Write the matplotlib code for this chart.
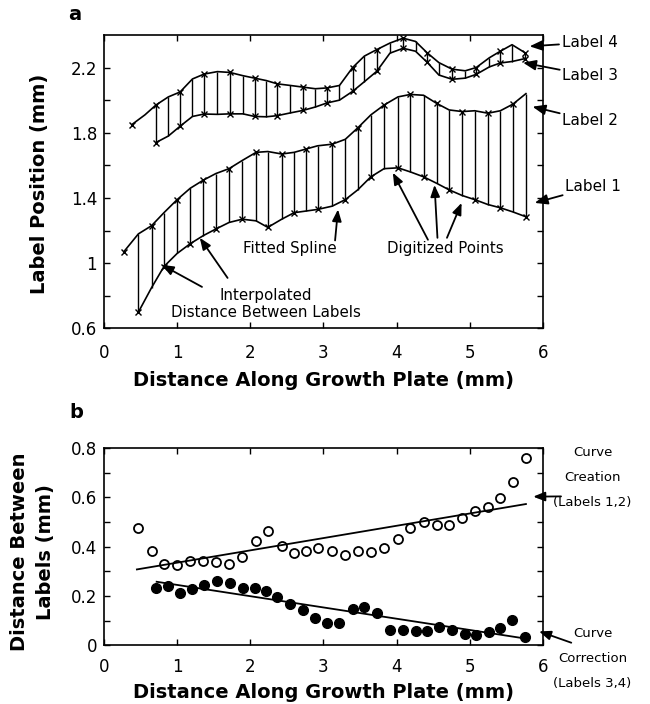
import numpy as np
import matplotlib.pyplot as plt
from matplotlib.ticker import MultipleLocator, FixedLocator

plt.rcParams['font.family'] = ['DejaVu Sans']

# ==========================================
# data
# ==========================================
# x positions of the interpolated distances (labels 1,2 and labels 3,4)
x12 = [0.47, 0.65, 0.82, 1.00, 1.18, 1.36, 1.53, 1.71, 1.89, 2.08, 2.24,
       2.43, 2.60, 2.76, 2.92, 3.12, 3.30, 3.47, 3.65, 3.83, 4.02, 4.19,
       4.37, 4.55, 4.72, 4.90, 5.07, 5.25, 5.42, 5.59, 5.77]
x34 = [0.71, 0.88, 1.04, 1.21, 1.37, 1.55, 1.72, 1.90, 2.06, 2.22, 2.37,
       2.55, 2.72, 2.89, 3.05, 3.22, 3.40, 3.56, 3.73, 3.91, 4.09, 4.26,
       4.42, 4.58, 4.76, 4.94, 5.09, 5.27, 5.42, 5.58, 5.76]

# panel a: label positions (mm)
label1 = [0.70, 0.85, 0.98, 1.06, 1.12, 1.17, 1.21, 1.25, 1.27, 1.26, 1.22,
          1.27, 1.31, 1.32, 1.33, 1.35, 1.39, 1.45, 1.53, 1.58, 1.585, 1.56,
          1.53, 1.49, 1.45, 1.415, 1.39, 1.36, 1.34, 1.315, 1.285]
label2_start = (0.27, 1.07)
label2 = [1.18, 1.23, 1.31, 1.39, 1.46, 1.51, 1.55, 1.58, 1.63, 1.68, 1.685,
          1.67, 1.68, 1.70, 1.72, 1.73, 1.76, 1.83, 1.91, 1.97, 2.02, 2.035,
          2.03, 1.98, 1.94, 1.93, 1.935, 1.92, 1.935, 1.975, 2.04]
label3 = [1.74, 1.78, 1.84, 1.90, 1.915, 1.913, 1.916, 1.916, 1.90, 1.898,
          1.905, 1.922, 1.937, 1.958, 1.983, 2.00, 2.054, 2.113, 2.177, 2.288,
          2.318, 2.30, 2.232, 2.154, 2.128, 2.135, 2.158, 2.204, 2.228, 2.237,
          2.255]
label4_start_x = [0.38, 0.56]
label4_start_y = [1.85, 1.91]
label4 = [1.97, 2.02, 2.05, 2.13, 2.16, 2.175, 2.17, 2.15, 2.135, 2.12, 2.10,
          2.09, 2.08, 2.07, 2.075, 2.09, 2.20, 2.27, 2.31, 2.35, 2.38, 2.36,
          2.29, 2.23, 2.19, 2.18, 2.20, 2.26, 2.30, 2.34, 2.29]

# panel b: distance between labels (mm)
dist12 = [0.477, 0.383, 0.330, 0.326, 0.343, 0.343, 0.337, 0.329, 0.357,
          0.424, 0.465, 0.403, 0.373, 0.384, 0.394, 0.383, 0.366, 0.383,
          0.380, 0.394, 0.433, 0.476, 0.500, 0.487, 0.489, 0.518, 0.546,
          0.560, 0.596, 0.661, 0.758]
dist34 = [0.231, 0.242, 0.214, 0.227, 0.245, 0.262, 0.254, 0.234, 0.234,
          0.222, 0.195, 0.168, 0.143, 0.112, 0.092, 0.090, 0.146, 0.157,
          0.133, 0.062, 0.062, 0.060, 0.058, 0.076, 0.062, 0.045, 0.042,
          0.056, 0.072, 0.103, 0.035]
# regression lines (end points)
fit12_x, fit12_y = [0.45, 5.77], [0.308, 0.573]
fit34_x, fit34_y = [0.72, 5.76], [0.258, 0.028]

xlabel = 'Distance Along Growth Plate (mm)'

fig = plt.figure(figsize=(6.5, 7.04), dpi=100)


def style_axes(ax):
    for s in ax.spines.values():
        s.set_linewidth(1.2)
    ax.tick_params(which='both', direction='in', top=True, right=True,
                   length=4, width=1, labelsize=12)
    ax.tick_params(axis='y', which='both', pad=5)


# ==========================================
# panel a
# ==========================================
ax1 = fig.add_axes([0.16, 0.5334, 0.675, 0.417])
ax1.vlines(x12, label1, label2, color='k', lw=1)
ax1.vlines(x34, label3, label4, color='k', lw=1)
ax1.plot(x12, label1, 'k-', lw=1.2, marker='x', ms=4, mew=1, markevery=2)
ax1.plot([label2_start[0]] + x12, [label2_start[1]] + label2, 'k-', lw=1.2,
         marker='x', ms=4, mew=1, markevery=2)
ax1.plot(x34, label3, 'k-', lw=1.2, marker='x', ms=4, mew=1, markevery=2)
ax1.plot(label4_start_x + x34, label4_start_y + label4, 'k-', lw=1.2,
         marker='x', ms=4, mew=1, markevery=2)

ax1.set_xlim(0, 6)
ax1.set_ylim(0.6, 2.4)
ax1.xaxis.set_major_locator(MultipleLocator(1))
ax1.yaxis.set_major_locator(FixedLocator([0.6, 1.0, 1.4, 1.8, 2.2]))
ax1.yaxis.set_minor_locator(FixedLocator([0.8, 1.2, 1.6, 2.0]))
ax1.set_yticklabels(['0.6', '1', '1.4', '1.8', '2.2'])
style_axes(ax1)
ax1.tick_params(axis='x', which='both', pad=11)
ax1.set_xlabel(xlabel, fontsize=14, fontweight='bold', labelpad=7)
fig.text(40 / 650, 1 - 184 / 704, 'Label Position (mm)', rotation=90,
         ha='center', va='center', fontsize=14, fontweight='bold')
fig.text(75 / 650, 1 - 15 / 704, 'a', ha='center', va='center',
         fontsize=14, fontweight='bold')

arrow = dict(arrowstyle='-|>,head_length=0.7,head_width=0.28',
             color='k', lw=1.3, shrinkA=0, shrinkB=0)
for txt, pos, head in [('Label 4', (6.26, 2.354), (5.82, 2.33)),
                       ('Label 3', (6.27, 2.15), (5.73, 2.23)),
                       ('Label 2', (6.27, 1.874), (5.86, 1.96)),
                       ('Label 1', (6.31, 1.469), (5.89, 1.37))]:
    ax1.annotate(txt, xy=head, xytext=pos, ha='left', va='center',
                 fontsize=11, arrowprops=arrow, annotation_clip=False)

ax1.text(2.54, 1.088, 'Fitted Spline', ha='center', va='center',
         fontsize=10.8)
ax1.annotate('', xy=(3.20, 1.33), xytext=(3.16, 1.14), arrowprops=arrow)
ax1.text(4.67, 1.093, 'Digitized Points', ha='center', va='center',
         fontsize=10.8)
for tail, head in [((4.43, 1.144), (3.95, 1.555)),
                   ((4.56, 1.156), (4.52, 1.48)),
                   ((4.69, 1.156), (4.89, 1.37))]:
    ax1.annotate('', xy=head, xytext=tail, arrowprops=arrow)
ax1.text(2.21, 0.75, 'Interpolated\nDistance Between Labels', ha='center',
         va='center', fontsize=10.8, linespacing=1.2)
for tail, head in [((1.34, 0.855), (0.79, 0.99)),
                   ((1.69, 0.91), (1.31, 1.156))]:
    ax1.annotate('', xy=head, xytext=tail, arrowprops=arrow)

# ==========================================
# panel b
# ==========================================
ax2 = fig.add_axes([0.16, 0.0832, 0.675, 0.2804])
ax2.plot(x12, dist12, 'o', mfc='white', mec='k', mew=1.3, ms=6.5)
ax2.plot(x34, dist34, 'o', mfc='k', mec='k', ms=7)
ax2.plot(fit12_x, fit12_y, 'k-', lw=1.3)
ax2.plot(fit34_x, fit34_y, 'k-', lw=1.3)

ax2.set_xlim(0, 6)
ax2.set_ylim(0, 0.8)
ax2.xaxis.set_major_locator(MultipleLocator(1))
ax2.yaxis.set_major_locator(FixedLocator([0, 0.2, 0.4, 0.6, 0.8]))
ax2.yaxis.set_minor_locator(FixedLocator([0.1, 0.3, 0.5, 0.7]))
ax2.set_yticklabels(['0', '0.2', '0.4', '0.6', '0.8'])
style_axes(ax2)
ax2.tick_params(axis='x', which='both', pad=9)
ax2.set_xlabel(xlabel, fontsize=14, fontweight='bold', labelpad=5)
fig.text(32.5 / 650, 1 - 552 / 704, 'Distance Between\nLabels (mm)',
         rotation=90, ha='center', va='center', fontsize=14,
         fontweight='bold', linespacing=1.5)
fig.text(76 / 650, 1 - 413 / 704, 'b', ha='center', va='center',
         fontsize=14, fontweight='bold')

ax2.annotate('', xy=(5.87, 0.603), xytext=(6.25, 0.604), arrowprops=arrow,
             annotation_clip=False)
ax2.text(6.68, 0.68, 'Curve\nCreation\n(Labels 1,2)', ha='center',
         va='center', fontsize=9.5, linespacing=2.2)
ax2.annotate('', xy=(5.95, 0.057), xytext=(6.39, 0.011), arrowprops=arrow,
             annotation_clip=False)
ax2.text(6.68, -0.051, 'Curve\nCorrection\n(Labels 3,4)', ha='center',
         va='center', fontsize=9.5, linespacing=2.2, clip_on=False)

fig.savefig('out.png', dpi=100)
